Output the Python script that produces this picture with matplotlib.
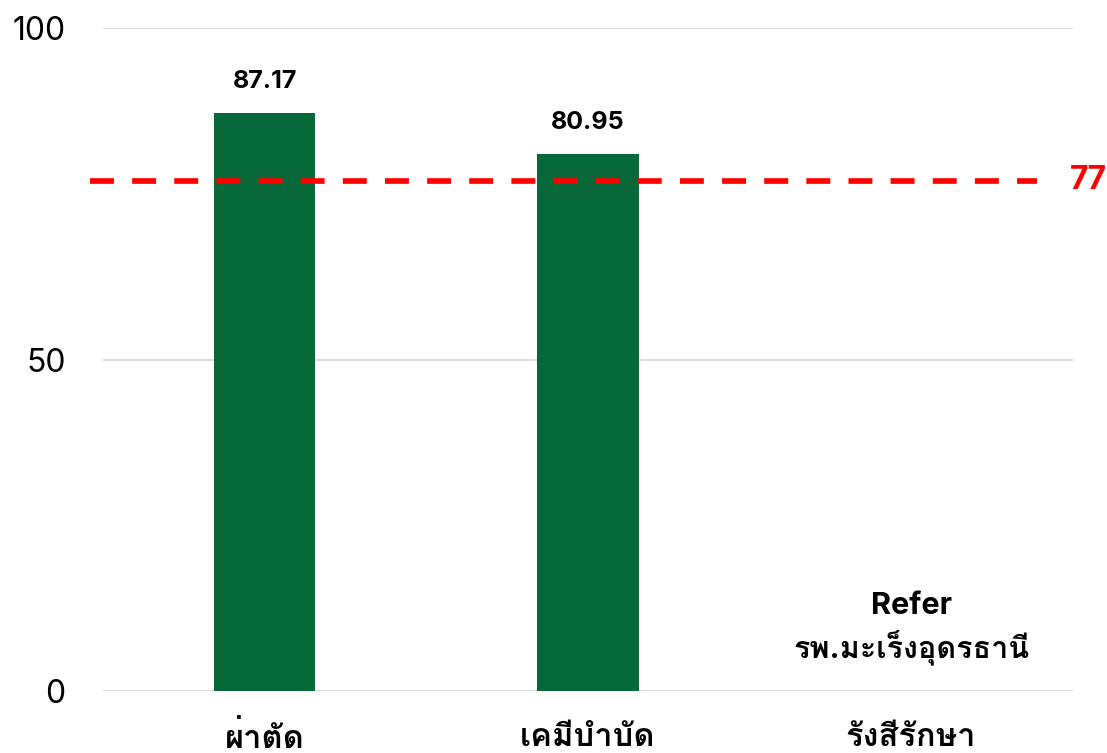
import matplotlib
matplotlib.use("Agg")
import matplotlib.pyplot as plt
import matplotlib.patheffects as pe
from matplotlib import font_manager as fm
from matplotlib.ft2font import FT2Font

categories = ["ผ่าตัด", "เคมีบำบัด", "รังสีรักษา"]
values = [87.17, 80.95, None]
target = 77
yticks = [0, 50, 100]
note = "Refer\nรพ.มะเร็งอุดรธานี"

# find a font with Thai coverage (prefer one with a bold face)
thai_fonts = []
thai_bold = set()
for f in fm.fontManager.ttflist:
    try:
        if 0x0E01 in FT2Font(f.fname).get_charmap():
            if f.name not in thai_fonts:
                thai_fonts.append(f.name)
            w = f.weight if isinstance(f.weight, int) else 400
            if w >= 600:
                thai_bold.add(f.name)
    except Exception:
        pass
thai_choice = [n for n in thai_fonts if n in thai_bold][:1] or thai_fonts[:1]
fake_bold = not (thai_choice and thai_choice[0] in thai_bold)
families = ["Inter"] + thai_choice + ["DejaVu Sans"]
plt.rcParams['font.family'] = families

stroke = [pe.withStroke(linewidth=1.7, foreground="black")] if fake_bold else None

fig = plt.figure(figsize=(11.07, 7.53), dpi=100)
ax = fig.add_axes([0.093, 0.0823, 0.876, 0.8805])

xs = list(range(len(categories)))
green = "#07693A"
for x, v in zip(xs, values):
    if v is None:
        continue
    ax.bar(x, v, width=0.315, color=green, zorder=2)
    ax.text(x, v + 3.0, f"{v:.2f}", ha="center", va="bottom", fontsize=18,
            fontweight="bold", color="black")

ax.set_xlim(-0.5, 2.5)
ax.set_ylim(0, 100)
ax.set_yticks(yticks)
ax.set_yticklabels([str(t) for t in yticks], fontsize=23)
ax.set_xticks(xs)
ax.set_xticklabels(categories, fontsize=23.5, fontweight="bold")
if stroke:
    for lab in ax.get_xticklabels():
        lab.set_path_effects(stroke)
ax.tick_params(axis="both", length=0)
ax.tick_params(axis="y", pad=27)
ax.tick_params(axis="x", pad=22)
for s in ax.spines.values():
    s.set_visible(False)
ax.grid(axis="y", color="#D9D9D9", linewidth=1.3, zorder=0)
ax.set_axisbelow(True)

ax.plot([-0.54, 2.39], [target, target], color="#FF0000", linewidth=4.1,
        dashes=(4.2, 3.2), zorder=3, clip_on=False)
ax.text(2.49, target, str(target), ha="left", va="center", fontsize=23,
        fontweight="bold", color="#FF0000")

t = ax.text(2, 9.4, note, ha="center", va="center", fontsize=22,
            fontweight="bold", linespacing=1.35)
if stroke:
    t.set_path_effects(stroke)

fig.savefig("out.png", dpi=100)
